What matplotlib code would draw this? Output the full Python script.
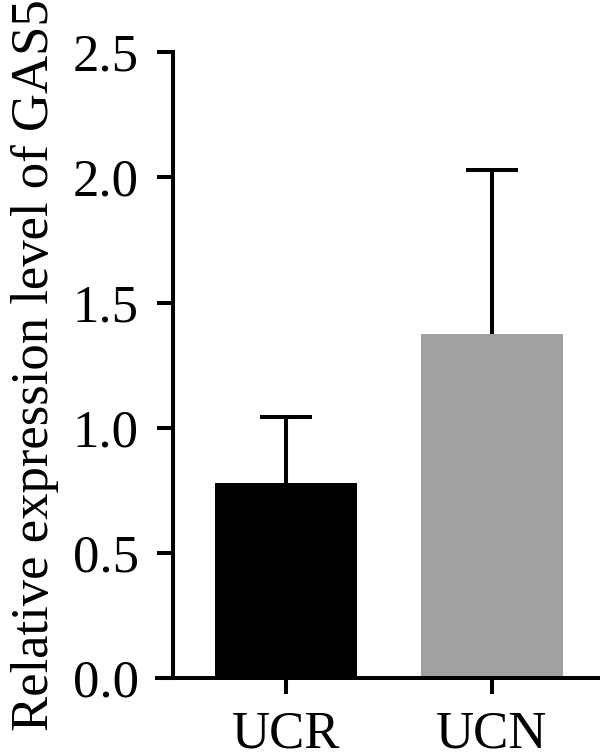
import matplotlib.pyplot as plt

groups = ['UCR', 'UCN']
means = [0.779, 1.374]
sd = [0.263, 0.655]
colors = ['#000000', '#a1a1a3']

plt.rcParams['font.family'] = ['Liberation Serif', 'DejaVu Serif']

fig = plt.figure(figsize=(6, 7.54), dpi=100)
ax = fig.add_axes([0.2617, 0.1008, 0.7383, 0.8300])

x = range(len(groups))
# errorbar behind the bars so only the upper half shows
ax.errorbar(x, means, yerr=sd, fmt='none', ecolor='black',
            elinewidth=2.9, capsize=18.5, capthick=2.9, zorder=1)
ax.bar(x, means, width=0.685, color=colors, zorder=2)

ax.set_xlim(-0.626, 1.524)
ax.set_ylim(0, 2.5)
ax.set_yticks([0, 0.5, 1.0, 1.5, 2.0, 2.5])
ax.set_yticklabels(['0.0', '0.5', '1.0', '1.5', '2.0', '2.5'])
ax.set_xticks(list(x))
ax.set_xticklabels(groups)

ax.spines['top'].set_visible(False)
ax.spines['right'].set_visible(False)
ax.spines['left'].set_position(('data', -0.549))
for s in ['left', 'bottom']:
    ax.spines[s].set_linewidth(2.9)
ax.tick_params(axis='both', width=2.9, length=11.5, labelsize=38)
ax.tick_params(axis='y', pad=13)
ax.tick_params(axis='x', pad=12)

ax.set_ylabel('Relative expression level of GAS5', fontsize=38, labelpad=10)

fig.savefig('out.png', dpi=100)
